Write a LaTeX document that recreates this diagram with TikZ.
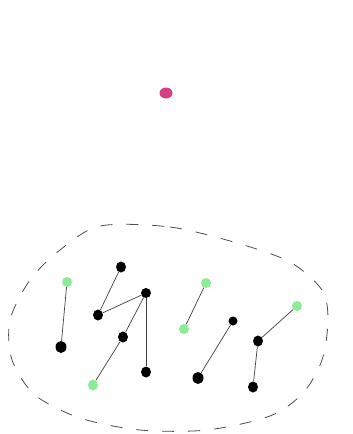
\documentclass[tikz,border=0pt]{standalone}
\usepackage{tikz}
\usetikzlibrary{shapes.geometric}
\definecolor{pinkdot}{RGB}{213,64,130}
\definecolor{lightgreen}{RGB}{140,236,150}
\begin{document}
\begin{tikzpicture}[x=1pt, y=-1pt,
  blk/.style={ellipse, fill=black, inner sep=0pt, minimum width=10pt, minimum height=11pt},
  grn/.style={ellipse, fill=lightgreen, inner sep=0pt, minimum width=10pt, minimum height=10pt},
  lnk/.style={draw=black!75, line width=0.7pt}]
\useasboundingbox (0,0) rectangle (353,434);
\node[ellipse, fill=pinkdot, inner sep=0pt, minimum width=13pt, minimum height=11pt] (p) at (166,93) {};
\draw[black!70, line width=0.8pt, dash pattern=on 12pt off 14pt] plot[smooth cycle] coordinates {
  (100,226) (170,227) (237,243) (290,262) (322,290) (328,320) (322,360)
  (303,393) (270,416) (207,430) (140,430) (80,418) (35,395) (12,360)
  (10,320) (30,280) (60,250)};
% left group
\node[grn] (g1) at (67,282) {};
\node[blk, minimum width=11pt, minimum height=12pt] (b1) at (61,347) {};
\node[blk] (b2) at (121,267) {};
\node[blk] (b3) at (98,315) {};
\node[blk, minimum height=10pt] (b4) at (146,293) {};
\node[blk] (b5) at (123,337) {};
\node[grn, minimum height=11pt] (g2) at (93,385) {};
\node[blk] (b6) at (146,372) {};
\draw[lnk] (g1) -- (b1);
\draw[lnk] (b2) -- (b3);
\draw[lnk] (b3) -- (b4);
\draw[lnk] (b4) -- (b5);
\draw[lnk] (b5) -- (g2);
\draw[lnk] (b4) -- (b6);
% right group
\node[grn] (g3) at (206,283) {};
\node[grn] (g4) at (184,329) {};
\node[blk, minimum width=9pt, minimum height=9pt] (b7) at (233,321) {};
\node[blk, minimum width=11pt, minimum height=12pt] (b8) at (198,378) {};
\node[grn] (g5) at (297,306) {};
\node[blk] (b9) at (258,341) {};
\node[blk] (b10) at (253,387) {};
\draw[lnk] (g3) -- (g4);
\draw[lnk] (b7) -- (b8);
\draw[lnk] (g5) -- (b9);
\draw[lnk] (b9) -- (b10);
\end{tikzpicture}
\end{document}
